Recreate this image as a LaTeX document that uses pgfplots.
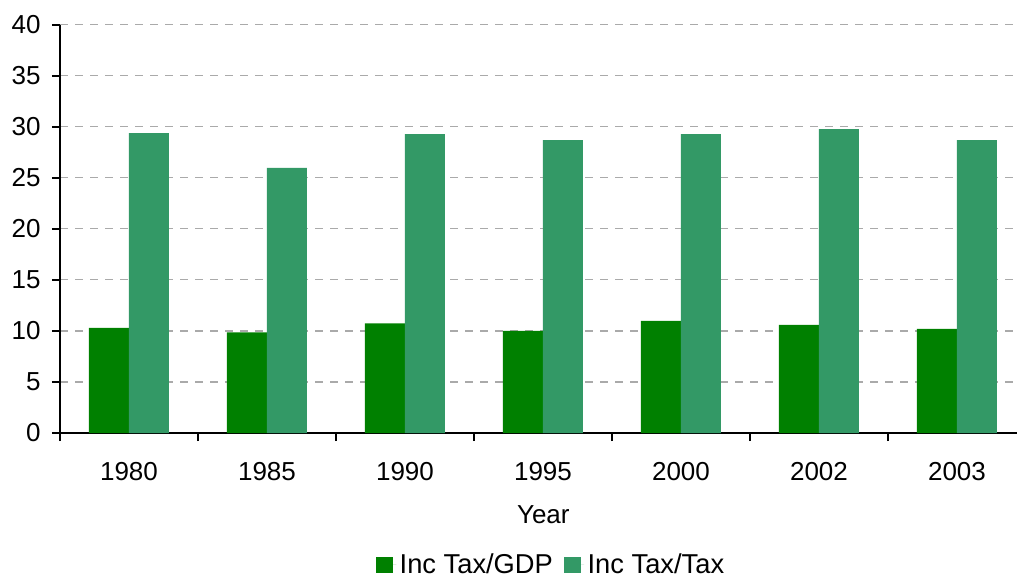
\documentclass[border=0pt]{standalone}
\usepackage{pgfplots}
\pgfplotsset{compat=1.18}
\usepackage{fontspec}
\setmainfont{Liberation Sans}
\definecolor{gdp}{RGB}{0,128,0}
\definecolor{tax}{RGB}{51,153,102}
\definecolor{gridc}{RGB}{170,170,170}
\newcommand{\bigf}{\fontsize{26}{30}\selectfont}
\newcommand{\legf}{\fontsize{27.3}{31}\selectfont}
\begin{document}
\begin{tikzpicture}
\useasboundingbox (0,0) rectangle (1017pt,579pt);
\begin{axis}[
  at={(60pt,146pt)}, anchor=south west,
  scale only axis, width=957pt, height=408.5pt,
  ybar=0pt, bar width=40pt,
  xmin=-0.5, xmax=6.435, ymin=0, ymax=40,
  axis lines*=left,
  axis line style={line width=2pt, black},
  tick align=outside,
  xtick={0,1,2,3,4,5,6},
  xticklabels={1980,1985,1990,1995,2000,2002,2003},
  major x tick style={draw=none},
  minor xtick={-0.5,0.5,1.5,2.5,3.5,4.5,5.5},
  minor tick length=8pt,
  minor x tick style={line width=2pt, black},
  ytick={0,5,...,40},
  major tick length=8pt,
  y tick style={line width=2pt, black},
  ymajorgrids,
  grid style={gridc, line width=1.3pt, dash pattern=on 8pt off 7pt},
  tick label style={font=\bigf},
  /pgf/number format/assume math mode=true,
  xticklabel style={yshift=-18pt},
  yticklabel style={xshift=-8pt},
  xlabel={Year},
  xlabel style={font=\bigf, at={(axis description cs:0.505,-0.201)}, anchor=center},
  legend style={font=\legf, draw=none, at={(axis description cs:0.514,-0.321)}, anchor=center,
     nodes={inner xsep=3.35pt},
     /tikz/every even column/.append style={column sep=8pt}},
  legend columns=2,
  legend image code/.code={\fill[#1] (0pt,-9pt) rectangle (16.5pt,7.5pt); \path (0pt,0pt) -- (20pt,0pt);},
  legend cell align=left,
]
\addplot[fill=gdp, draw=none] coordinates {(0,10.3) (1,9.85) (2,10.73) (3,10.0) (4,10.99) (5,10.6) (6,10.2)};
\addplot[fill=tax, draw=none] coordinates {(0,29.37) (1,25.95) (2,29.27) (3,28.69) (4,29.27) (5,29.76) (6,28.69)};
\legend{Inc Tax/GDP, Inc Tax/Tax}
\end{axis}
\end{tikzpicture}
\end{document}
